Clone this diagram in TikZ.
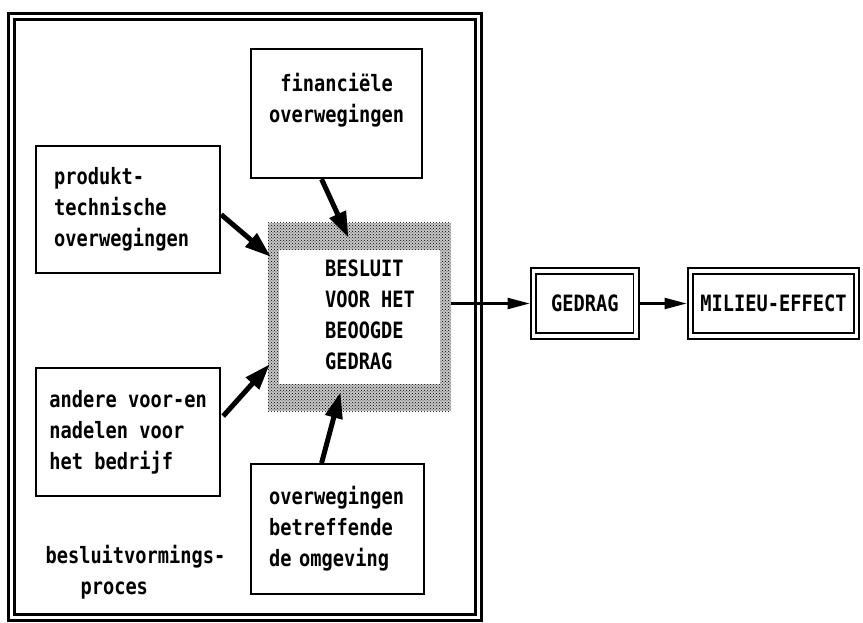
\documentclass[tikz,border=0pt]{standalone}
\usepackage{fontspec}
\newfontfamily\plotfont[FakeStretch=0.83]{DejaVu Sans Mono}
\usetikzlibrary{arrows.meta,calc,patterns}

\tikzset{
  plot/.style={font=\plotfont\bfseries\fontsize{22.5}{31}\selectfont},
  box/.style={plot, draw, line width=2.2pt, anchor=north west, align=left, inner xsep=0pt},
  dbox/.style={plot, draw, double, double distance=3.5pt, line width=1.8pt},
  fat/.style={line width=5pt, -{Triangle[length=26pt,width=17pt]}},
  slim/.style={line width=2.2pt, -{Triangle[length=22pt,width=11pt]}, shorten >=3pt},
}

\begin{document}
\begin{tikzpicture}[x=1pt,y=-1pt]
\useasboundingbox (0,0) rectangle (863,623);
% besluitvormingsproces frame
\draw[double, double distance=3.5pt, line width=2.4pt] (11.5,16.5) rectangle (478.5,617.5);

% considerations
\node[box, minimum width=171, minimum height=129, align=center, text width=151] (fin) at (250,48) {financiële\\overwegingen\\\mbox{}};
\node[box, minimum width=184, minimum height=127, text width=148] (prod) at (35,145) {produkt-\\technische\\overwegingen};
\node[box, minimum width=184, minimum height=128] (andere) at (35,367) {andere voor-en\\nadelen voor\\het bedrijf};
\node[box, minimum width=173, minimum height=130, text width=137] (omg) at (250,463) {overwegingen\\betreffende\\de omgeving};
\node[plot, align=left, anchor=west] (proces) at (42,572.5) {besluitvormings-\\\hspace*{35pt}proces};

% decision
\node[preaction={fill=black!22}, pattern=crosshatch dots, minimum width=183, minimum height=188] (dec) at (359.5,317) {};
\node[fill=white, minimum width=161, minimum height=134] (decin) at (359.5,317) {};
\node[plot, align=left] (dectxt) at (370,314.5) {BESLUIT\\VOOR HET\\BEOOGDE\\GEDRAG};

\draw[fat] ($(fin.south)+(-15,0)$) -- ($(dec.north)+(-11,15)$);
\draw[fat] ($(prod.east)+(0,5)$) -- ($(dec.north west)+(3,34)$);
\draw[fat] ($(andere.east)+(2,-16)$) -- ($(dec.south west)+(2,-47)$);
\draw[fat] ($(omg.north)+(-16,0)$) -- ($(dec.south)+(-19,-19)$);

% result
\node[dbox, minimum width=102.5, minimum height=65] (ged) at (584.8,303.5) {GEDRAG};
\node[dbox, minimum width=166, minimum height=65] (mil) at (773.5,303.5) {MILIEU-EFFECT};

\draw[slim] (dec.east |- ged.west) -- (ged.west);
\draw[slim, shorten <=3pt] (ged.east) -- (mil.west);
\end{tikzpicture}
\end{document}
